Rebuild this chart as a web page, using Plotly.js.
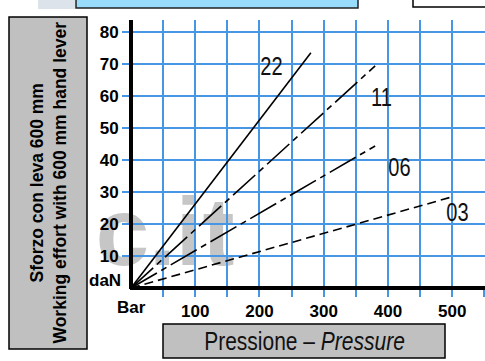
<!DOCTYPE html>
<html>
<head>
<meta charset="utf-8">
<script src="https://cdn.plot.ly/plotly-3.0.1.min.js"></script>
<style>html,body{margin:0;padding:0;background:#fff;}#chart{width:485px;height:361px;}</style>
</head>
<body>
<div id="chart"></div>
<script>
// ---- data ----
const seriesNames = ["22", "11", "06", "03"];
const pressure22 = [0, 280];
const effort22 = [0, 73.5];
const pressure11 = [0, 380];
const effort11 = [0, 69.4];
const pressure06 = [0, 380];
const effort06 = [0, 44.4];
const pressure03 = [0, 500];
const effort03 = [0, 28.5];
const xTickVals = [50, 100, 150, 200, 250, 300, 350, 400, 450, 500, 550];
const xTickText = ["", "100", "", "200", "", "300", "", "400", "", "500", ""];
const yTickVals = [10, 20, 30, 40, 50, 60, 70, 80];
const yTickText = ["10", "20", "30", "40", "50", "60", "70", "80"];

const pressures = [pressure22, pressure11, pressure06, pressure03];
const efforts = [effort22, effort11, effort06, effort03];
const dashes = ["solid", "30px,5px,6px,5px", "30px,5px,6px,5px", "9px,5px"];
const labelShift = [[-39, -13], [6, -31], [24, -21], [5, -15]];

const GRID = "#4796E3";
const SANS = "Liberation Sans, Arial, sans-serif";

const traces = seriesNames.map((n, i) => ({
  type: "scatter", mode: "lines", name: n,
  x: pressures[i], y: efforts[i],
  line: {color: "#000", width: 1.6, dash: dashes[i]},
  hoverinfo: "skip", showlegend: false
}));

const labelAnn = seriesNames.map((n, i) => ({
  xref: "x", yref: "y",
  x: pressures[i][pressures[i].length - 1],
  y: efforts[i][efforts[i].length - 1],
  text: n, showarrow: false,
  xshift: labelShift[i][0], yshift: labelShift[i][1],
  font: {family: SANS, size: 26, color: "#111"},
  xanchor: "center", yanchor: "middle"
}));

// pixel -> paper helpers (plot area: l=130, w=355, t=20, h=269)
const px = v => (v - 130) / 355;
const py = v => (288.96 - v) / 269;

const layout = {
  width: 485, height: 361,
  margin: {l: 130, r: 0, t: 20, b: 72, pad: 0},
  paper_bgcolor: "#fff", plot_bgcolor: "#fff",
  showlegend: false,
  xaxis: {
    range: [-1.55, 551], tickmode: "array", tickvals: xTickVals, ticktext: xTickText,
    showgrid: true, gridcolor: GRID, gridwidth: 2,
    ticks: "outside", ticklen: 7, tickwidth: 2, tickcolor: GRID,
    zeroline: true, zerolinecolor: "#000", zerolinewidth: 4,
    showline: false, fixedrange: true,
    tickfont: {family: SANS, size: 17, color: "#000", weight: "bold"}
  },
  yaxis: {
    range: [-0.3, 83.75], tickmode: "array", tickvals: yTickVals, ticktext: yTickText,
    showgrid: true, gridcolor: GRID, gridwidth: 2,
    ticks: "outside", ticklen: 7, tickwidth: 2, tickcolor: GRID,
    zeroline: true, zerolinecolor: "#000", zerolinewidth: 4,
    showline: false, fixedrange: true,
    tickfont: {family: SANS, size: 17, color: "#000", weight: "bold"}
  },
  shapes: [
    // watermark
    {type: "rect", xref: "paper", yref: "paper", layer: "below",
     x0: px(90), x1: px(240), y0: py(270), y1: py(175),
     line: {width: 0}, fillcolor: "rgba(0,0,0,0)",
     label: {text: "c.it", textposition: "middle center",
             font: {family: SANS, size: 96, color: "#c6c6c6", weight: "bold"}}},
    // y title box
    {type: "rect", xref: "paper", yref: "paper",
     x0: px(9), x1: px(87), y0: py(349), y1: py(17),
     line: {color: "#000", width: 1.5}, fillcolor: "#C0C0C0"},
    // x title box
    {type: "rect", xref: "paper", yref: "paper",
     x0: px(163), x1: px(445), y0: py(358), y1: py(324),
     line: {color: "#000", width: 1.5}, fillcolor: "#C0C0C0"},
    // top blue box (cut off)
    {type: "rect", xref: "paper", yref: "paper",
     x0: px(76), x1: px(358), y0: py(8), y1: py(-5),
     line: {color: "#222", width: 1.5}, fillcolor: "#99DBFB"},
    // top faint shadow
    {type: "rect", xref: "paper", yref: "paper",
     x0: px(38), x1: px(75), y0: py(9), y1: py(-5),
     line: {width: 0}, fillcolor: "#DCE3EA"},
    // top right box (cut off)
    {type: "rect", xref: "paper", yref: "paper",
     x0: px(413), x1: px(492), y0: py(7), y1: py(-5),
     line: {color: "#000", width: 1.5}, fillcolor: "#fff"}
  ],
  annotations: labelAnn.concat([
    {xref: "paper", yref: "paper", x: px(48.5), y: py(183),
     text: "Sforzo con leva 600 mm<br>Working effort with 600 mm hand lever",
     textangle: -90, showarrow: false, xanchor: "center", yanchor: "middle",
     font: {family: SANS, size: 17.5, color: "#000", weight: "bold"}},
    {xref: "paper", yref: "paper", x: px(304), y: py(341),
     text: "Pressione – <i>Pressure</i>", showarrow: false,
     xanchor: "center", yanchor: "middle",
     font: {family: SANS, size: 25, color: "#111"}},
    {xref: "paper", yref: "paper", x: px(123), y: py(280),
     text: "daN", showarrow: false, xanchor: "right", yanchor: "middle",
     font: {family: SANS, size: 17, color: "#000", weight: "bold"}},
    {xref: "x", yref: "paper", x: 0, y: py(307),
     text: "Bar", showarrow: false, xanchor: "center", yanchor: "middle",
     font: {family: SANS, size: 17, color: "#000", weight: "bold"}}
  ])
};

// condensed look for the DIN-like texts (line labels and x title)
const narrowScale = {0: 0.77, 1: 0.77, 2: 0.77, 3: 0.77, 5: 0.84};

Plotly.newPlot("chart", traces, layout, {staticPlot: true, displayModeBar: false}).then(() => {
  document.querySelectorAll("g.annotation").forEach(g => {
    const idx = g.getAttribute("data-index");
    if (idx !== null && narrowScale[idx] !== undefined) {
      const t = g.querySelector("text.annotation-text");
      if (t) {
        t.style.transformBox = "fill-box";
        t.style.transformOrigin = "center";
        t.style.transform = "scaleX(" + narrowScale[idx] + ")";
      }
    }
  });
});
</script>
</body>
</html>
